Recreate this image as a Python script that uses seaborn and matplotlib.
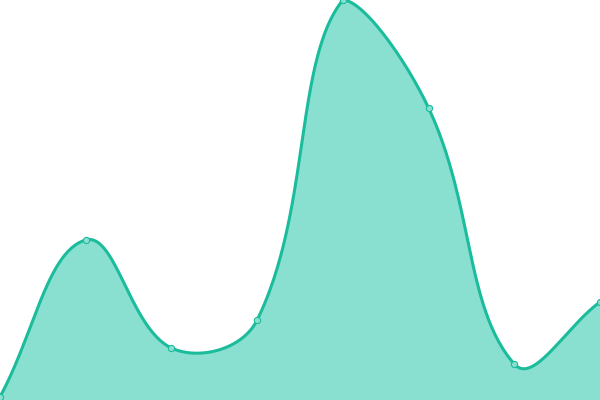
import numpy as np
import pandas as pd
import matplotlib
matplotlib.use("Agg")
import matplotlib.pyplot as plt
import seaborn as sns

# data (y scale 0..100)
labels = ["p1", "p2", "p3", "p4", "p5", "p6", "p7", "p8"]
values = [0.8, 40, 13, 20, 100, 73, 9, 24.5]

line_color = "#1abc9c"
fill_color = "#8ae0d0"

W, H = 600, 400
x_idx = np.arange(len(values), dtype=float)
xmax = len(values) - 1
ymin, ymax = 0, 100

sns.set_style("white")
fig = plt.figure(figsize=(6, 4), dpi=100)
ax = fig.add_axes([0, 0, 1, 1])

# spline like chart.js (tension 0.4), done in pixel space
px = x_idx * W / xmax
py = (np.array(values) - ymin) / (ymax - ymin) * H
t = 0.4
n = len(px)
prev_c = []
next_c = []
for i in range(n):
    p0 = (px[max(i - 1, 0)], py[max(i - 1, 0)])
    p1 = (px[i], py[i])
    p2 = (px[min(i + 1, n - 1)], py[min(i + 1, n - 1)])
    d01 = np.hypot(p1[0] - p0[0], p1[1] - p0[1])
    d12 = np.hypot(p2[0] - p1[0], p2[1] - p1[1])
    s01 = d01 / (d01 + d12)
    s12 = d12 / (d01 + d12)
    fa, fb = t * s01, t * s12
    pcx = p1[0] - fa * (p2[0] - p0[0])
    pcy = p1[1] - fa * (p2[1] - p0[1])
    ncx = p1[0] + fb * (p2[0] - p0[0])
    ncy = p1[1] + fb * (p2[1] - p0[1])
    # cap control points to the chart area
    prev_c.append((min(max(pcx, 0), W), min(max(pcy, 0), H)))
    next_c.append((min(max(ncx, 0), W), min(max(ncy, 0), H)))

cx, cy = [], []
s = np.linspace(0, 1, 60)
for i in range(n - 1):
    P0 = np.array([px[i], py[i]])
    P1 = np.array(next_c[i])
    P2 = np.array(prev_c[i + 1])
    P3 = np.array([px[i + 1], py[i + 1]])
    b = ((1 - s) ** 3)[:, None] * P0 + (3 * (1 - s) ** 2 * s)[:, None] * P1 \
        + (3 * (1 - s) * s ** 2)[:, None] * P2 + (s ** 3)[:, None] * P3
    cx.extend(b[:, 0])
    cy.extend(b[:, 1])

curve = pd.DataFrame({
    "x": np.array(cx) / W * xmax,
    "y": np.array(cy) / H * (ymax - ymin) + ymin,
})

ax.fill_between(curve["x"], ymin, curve["y"], color=fill_color, lw=0, zorder=1)
sns.lineplot(data=curve, x="x", y="y", sort=False, estimator=None,
             color=line_color, lw=2.2, ax=ax, zorder=2)

pts = pd.DataFrame({"x": x_idx, "y": values, "label": labels})
sns.scatterplot(data=pts, x="x", y="y", s=20, color=fill_color,
                edgecolor=line_color, linewidth=0.8, ax=ax, zorder=3,
                clip_on=False)

ax.set_xlim(0, xmax)
ax.set_ylim(ymin, ymax)
ax.axis("off")

fig.savefig("out.png", dpi=100)
